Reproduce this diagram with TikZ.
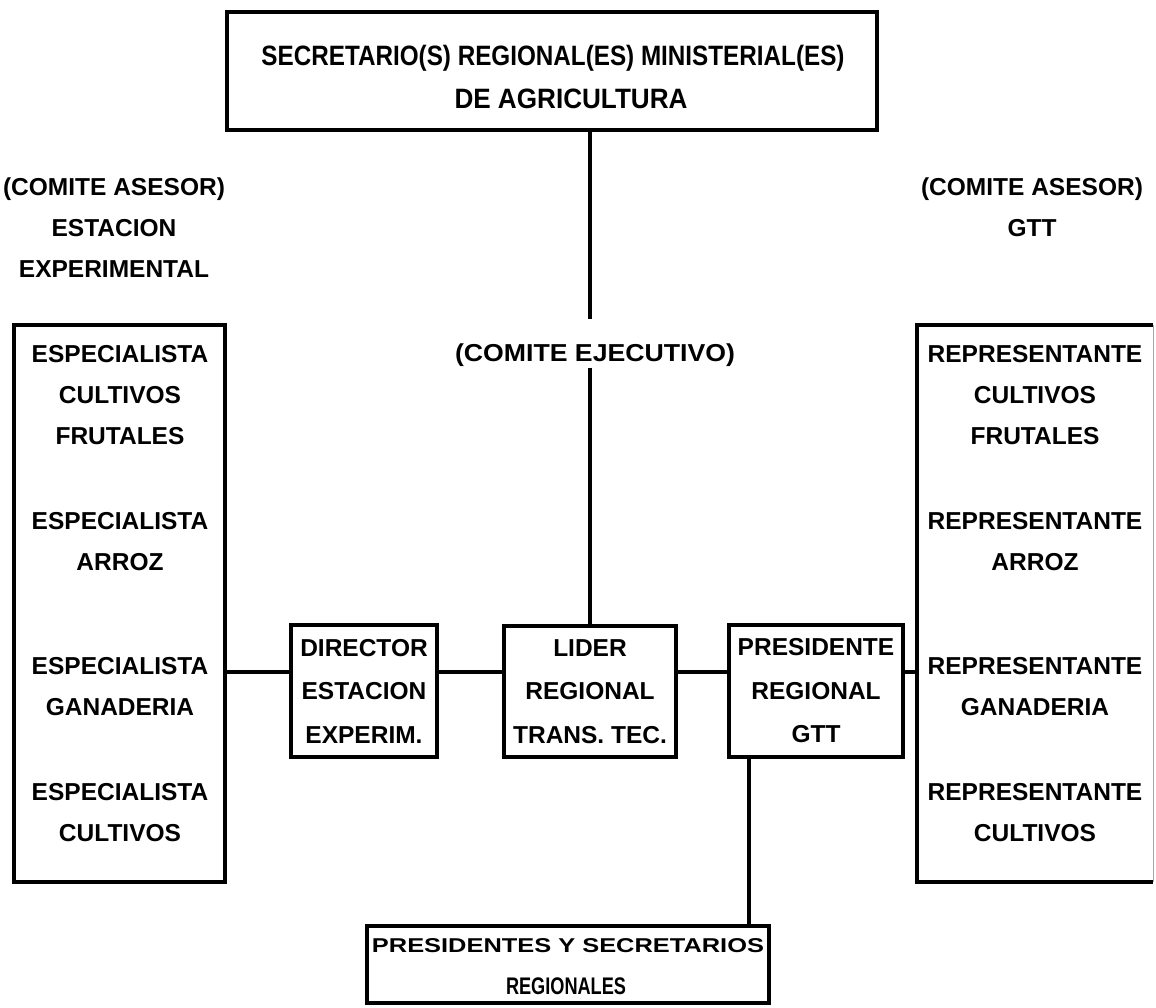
\documentclass[tikz,border=0pt]{standalone}
\usepackage{fontspec}
\setmainfont{Liberation Sans}
\usepackage{graphicx}
% squeeze or stretch one line of text to a given width, keeping its height
\newcommand{\fitto}[2]{\resizebox{#1pt}{\height}{#2}}
\begin{document}
\begin{tikzpicture}[x=1pt,y=-1pt,
  frame/.style={draw, line width=3.8pt, inner sep=0pt},
  link/.style={line width=3.8pt},
  lbl/.style={font=\fontsize{24.5}{41}\selectfont\bfseries, align=center, inner sep=0pt},
  midlbl/.style={font=\fontsize{24.5}{43.5}\selectfont\bfseries, align=center, inner sep=0pt},
]
\useasboundingbox (0,0) rectangle (1156,1008);

% boxes
\node[frame, minimum width=650pt, minimum height=118pt] (sec) at (552,71) {};
\node[frame, minimum width=211pt, minimum height=557pt] (lbox) at (119.5,603.5) {};
\node[inner sep=0pt, minimum width=236pt, minimum height=557pt] (rbox) at (1035,603.5) {};
\node[frame, minimum width=146pt, minimum height=132pt] (dir) at (364,691) {};
\node[frame, minimum width=172pt, minimum height=131pt] (lider) at (590,691.5) {};
\node[frame, minimum width=174pt, minimum height=132pt] (pres) at (816,691) {};
\node[frame, minimum width=402pt, minimum height=77pt] (bot) at (568,964.5) {};

% right box: heavy top, left and bottom, faint right edge
\draw[link] (rbox.north east) -- (rbox.north west) -- (rbox.south west) -- (rbox.south east);
\draw[line width=1pt, black!35] (rbox.north east) -- (rbox.south east);

% top box text
\node[inner sep=0pt, font=\fontsize{28}{30}\selectfont\bfseries, text height=20pt, text depth=0pt]
  (sect1) at (553,56) {\fitto{583}{SECRETARIO(S) REGIONAL(ES) MINISTERIAL(ES)}};
\node[inner sep=0pt, font=\fontsize{28}{30}\selectfont\bfseries, text height=20pt, text depth=0pt]
  (sect2) at (571,99) {\fitto{233}{DE AGRICULTURA}};

% advisory committees
\node[lbl] (asesL) at (114,227.5) {(COMITE ASESOR)\\ESTACION\\EXPERIMENTAL};
\node[lbl] (asesR) at (1032,207) {(COMITE ASESOR)\\GTT};

% executive committee
\node[inner sep=0pt, font=\fontsize{24.5}{30}\selectfont\bfseries, text height=17.5pt, text depth=0pt]
  (ejec) at (595,353) {\fitto{280}{(COMITE EJECUTIVO)}};

% specialists
\node[lbl] (e1) at (120,395) {ESPECIALISTA\\CULTIVOS\\FRUTALES};
\node[lbl] (e2) at (120,541.5) {ESPECIALISTA\\ARROZ};
\node[lbl] (e3) at (120,687) {ESPECIALISTA\\GANADERIA};
\node[lbl] (e4) at (120,812.5) {ESPECIALISTA\\CULTIVOS};

% representatives
\node[lbl] (r1) at (1035,395) {REPRESENTANTE\\CULTIVOS\\FRUTALES};
\node[lbl] (r2) at (1035,541.5) {REPRESENTANTE\\ARROZ};
\node[lbl] (r3) at (1035,687) {REPRESENTANTE\\GANADERIA};
\node[lbl] (r4) at (1035,812.5) {REPRESENTANTE\\CULTIVOS};

% middle row text
\node[midlbl] (dirt) at (dir) {DIRECTOR\\ESTACION\\EXPERIM.};
\node[midlbl] (lidt) at (lider) {LIDER\\REGIONAL\\TRANS. TEC.};
\node[midlbl] (prest) at (pres) {PRESIDENTE\\REGIONAL\\GTT};

% bottom box text
\node[inner sep=0pt, font=\fontsize{20}{24}\selectfont\bfseries, text height=14.3pt, text depth=0pt]
  (bott1) at (568,945) {\fitto{392}{PRESIDENTES Y SECRETARIOS}};
\node[inner sep=0pt, font=\fontsize{24}{26}\selectfont\bfseries, text height=17pt, text depth=0pt]
  (bott2) at (566,986) {\fitto{120}{REGIONALES}};

% connectors
\coordinate (hy) at (0,672);
\coordinate (pv) at (749,0);
\draw[link, shorten >=25pt] (sec.south -| lider.north) -- (ejec.north -| lider.north);
\draw[link, shorten <=6pt] (ejec.south -| lider.north) -- (lider.north);
\draw[link] (lbox.east |- hy) -- (dir.west |- hy);
\draw[link] (dir.east |- hy) -- (lider.west |- hy);
\draw[link] (lider.east |- hy) -- (pres.west |- hy);
\draw[link] (pres.east |- hy) -- (rbox.west |- hy);
\draw[link] (pres.south -| pv) -- (bot.north -| pv);
\end{tikzpicture}
\end{document}
